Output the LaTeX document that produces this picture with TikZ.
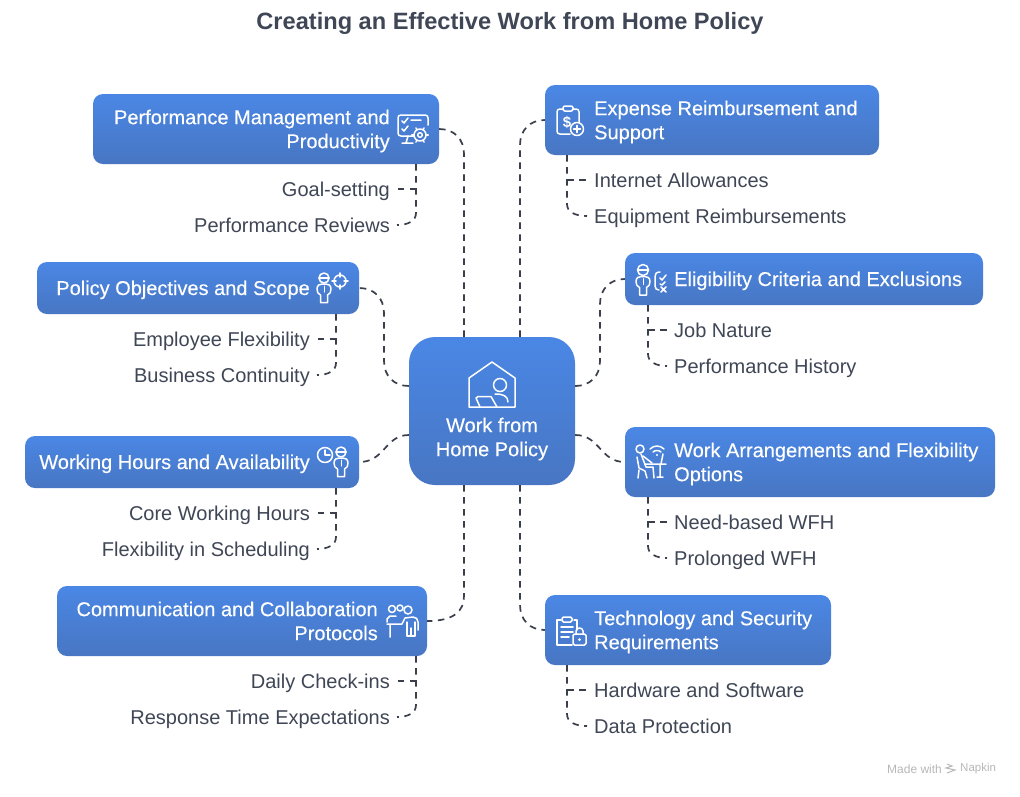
\documentclass[tikz,border=0pt]{standalone}
\usepackage{fontspec}
\setmainfont{Liberation Sans}
\newfontfamily\medf[FakeBold=0.25]{Liberation Sans}
\definecolor{inkc}{HTML}{3F4655}
\definecolor{linec}{HTML}{3A3F4B}
\definecolor{topc}{HTML}{4A87E5}
\definecolor{botc}{HTML}{4876C3}
\tikzset{
  bluebox/.style={rectangle,rounded corners=10pt,top color=topc,bottom color=botc,draw=none,inner sep=0pt},
  conn/.style={draw=linec,line width=1.7pt,dash pattern=on 6.5pt off 5.5pt},
  leaf/.style={font=\fontsize{20}{24}\selectfont,text=inkc,inner sep=0pt,text height=14pt,text depth=0pt},
  boxtxt/.style={font=\medf\fontsize{20}{24}\selectfont,text=white,inner sep=0pt},
  ico/.style={draw=white,line width=1.5pt,line cap=round,line join=round},
}
\newcommand{\bx}[5]{\node[bluebox,minimum width=#4pt-#2pt,minimum height=#5pt-#3pt] (#1) at ({(#2+#4)/2},{(#3+#5)/2}) {};}
\newcommand{\person}[3]{% head x, head y, head radius
  \draw[ico] (#1,#2) circle (#3);
  \draw[ico] (#1-#3,#2) -- (#1+#3,#2);
  \draw[ico] (#1-3.5,#2+#3+12) -- (#1-3.5,#2+#3+19.5) -- (#1+3.5,#2+#3+19.5) -- (#1+3.5,#2+#3+12)
     .. controls (#1+6,#2+#3+11) and (#1+7,#2+#3+9) .. (#1+7,#2+#3+6)
     .. controls (#1+7,#2+#3+2) and (#1+4,#2+#3+1) .. (#1+2,#2+#3+1)
     -- (#1-2,#2+#3+1)
     .. controls (#1-4,#2+#3+1) and (#1-7,#2+#3+2) .. (#1-7,#2+#3+6)
     .. controls (#1-7,#2+#3+9) and (#1-6,#2+#3+11) .. (#1-3.5,#2+#3+12);
  \draw[ico,line width=1pt] (#1,#2+#3+3) -- (#1,#2+#3+9);
}
\begin{document}
\begin{tikzpicture}[x=1pt,y=-1pt]
\useasboundingbox (0,0) rectangle (1020,796);
\fill[white] (0,0) rectangle (1020,796);

\node[font=\bfseries\fontsize{23.6}{28}\selectfont,text=inkc,inner sep=0pt] (title) at (510,23) {Creating an Effective Work from Home Policy};

% boxes
\bx{pm}{93}{94}{439}{164}
\bx{er}{545}{85}{879}{155}
\bx{po}{37}{262}{359}{314}
\bx{ec}{625}{253}{983}{305}
\bx{wh}{25}{436}{359}{488}
\bx{wa}{625}{427}{995}{497}
\bx{cc}{57}{586}{427}{656}
\bx{ts}{545}{595}{831}{665}
\node[bluebox,rounded corners=26pt,minimum width=166pt,minimum height=148pt] (ctr) at (492,411) {};

% box text
\node[boxtxt,align=right,anchor=east] (pmt) at (390,131) {Performance Management and\\Productivity};
\node[boxtxt,align=left,anchor=west] (ert) at (594,122) {Expense Reimbursement and\\Support};
\node[boxtxt,anchor=east,text height=14pt,text depth=0pt] (pot) at (310,288) {Policy Objectives and Scope};
\node[boxtxt,anchor=west,text height=14pt,text depth=0pt] (ect) at (674,279) {Eligibility Criteria and Exclusions};
\node[boxtxt,anchor=east,text height=14pt,text depth=0pt] (wht) at (310,462) {Working Hours and Availability};
\node[boxtxt,align=left,anchor=west] (wat) at (674,464) {Work Arrangements and Flexibility\\Options};
\node[boxtxt,align=right,anchor=east] (cct) at (378,621) {Communication and Collaboration\\Protocols};
\node[boxtxt,align=left,anchor=west] (tst) at (594,632) {Technology and Security\\Requirements};
\node[boxtxt,align=center] (ctrt) at (492,439) {Work from\\Home Policy};

% leaves
\node[leaf,anchor=east] (pm1) at (390,189) {Goal-setting};
\node[leaf,anchor=east] (pm2) at (390,225) {Performance Reviews};
\node[leaf,anchor=east] (po1) at (310,339) {Employee Flexibility};
\node[leaf,anchor=east] (po2) at (310,375) {Business Continuity};
\node[leaf,anchor=east] (wh1) at (310,513) {Core Working Hours};
\node[leaf,anchor=east] (wh2) at (310,549) {Flexibility in Scheduling};
\node[leaf,anchor=east] (cc1) at (390,681) {Daily Check-ins};
\node[leaf,anchor=east] (cc2) at (390,717) {Response Time Expectations};
\node[leaf,anchor=west] (er1) at (594,180) {Internet Allowances};
\node[leaf,anchor=west] (er2) at (594,216) {Equipment Reimbursements};
\node[leaf,anchor=west] (ec1) at (674,330) {Job Nature};
\node[leaf,anchor=west] (ec2) at (674,366) {Performance History};
\node[leaf,anchor=west] (wa1) at (674,522) {Need-based WFH};
\node[leaf,anchor=west] (wa2) at (674,558) {Prolonged WFH};
\node[leaf,anchor=west] (ts1) at (594,690) {Hardware and Software};
\node[leaf,anchor=west] (ts2) at (594,726) {Data Protection};

% centre connectors
\draw[conn] ([xshift=-28pt]ctr.north) -- (464,154) .. controls (464,139) and (454,129) .. (pm.east);
\draw[conn] ([xshift=28pt]ctr.north) -- (520,145) .. controls (520,130) and (530,120) .. (er.west);
\draw[conn] ([yshift=25pt]ctr.west) .. controls (394,386) and (384,376) .. (384,361) -- (384,313) .. controls (384,298) and (374,288) .. (po.east);
\draw[conn] ([yshift=-24pt]ctr.west) .. controls (385,435) and (385,462) .. (wh.east);
\draw[conn] ([yshift=25pt]ctr.east) .. controls (590,386) and (600,376) .. (600,361) -- (600,304) .. controls (600,289) and (610,279) .. (ec.west);
\draw[conn] ([yshift=-24pt]ctr.east) .. controls (600,435) and (600,462) .. (wa.west);
\draw[conn] ([xshift=-28pt]ctr.south) -- (464,596) .. controls (464,611) and (454,621) .. (cc.east);
\draw[conn] ([xshift=28pt]ctr.south) -- (520,605) .. controls (520,620) and (530,630) .. (ts.west);

% leaf connectors
\foreach \b/\xx/\ya/\yb/\ta/\tb in {pm/416/189/225/pm1/pm2, po/336/339/375/po1/po2, wh/336/513/549/wh1/wh2, cc/416/681/717/cc1/cc2}{
  \draw[conn] (\xx,\ya) -- ([xshift=7pt]\ta.east);
  \draw[conn] (\b.south -| \xx,0) -- (\xx,\yb-12) .. controls (\xx,\yb-4) and (\xx-8,\yb) .. ([xshift=7pt]\tb.east);
}
\foreach \b/\xx/\ya/\yb/\ta/\tb in {er/567/180/216/er1/er2, ec/648/330/366/ec1/ec2, wa/648/522/558/wa1/wa2, ts/567/690/726/ts1/ts2}{
  \draw[conn] (\xx,\ya) -- ([xshift=-7pt]\ta.west);
  \draw[conn] (\b.south -| \xx,0) -- (\xx,\yb-12) .. controls (\xx,\yb-4) and (\xx+8,\yb) .. ([xshift=-7pt]\tb.west);
}

% centre icon
\draw[ico] (469,378) -- (492,362) -- (515,378) -- (515,407) -- (469,407) -- cycle;
\draw[ico] (500,385) circle (6.5);
\draw[ico] (495,394) .. controls (503,394) and (508,396) .. (508,402);
\draw[ico] (480,407) -- (476,398) -- (478,396.5) -- (491,396.5) -- (497,407);

% PM icon
\draw[ico] (414,136) -- (401,136) .. controls (399,136) and (398,135) .. (398,133) -- (398,118) .. controls (398,116) and (399,115) .. (401,115) -- (425,115) .. controls (427,115) and (428,116) .. (428,118) -- (428,125);
\draw[ico] (408,136) -- (406,143) (402,143) -- (413,143);
\draw[ico] (402,121) -- (404,123) -- (408,118) (411,120) -- (421,120) (402,129) -- (404,131) -- (408,126);
\draw[ico] (420,135) circle (2.3);
\draw[ico] (420,135) circle (6);
\foreach \a in {0,60,...,300}{\draw[ico] (420,135) ++(\a:6) -- ++(\a:2.2);}

% ER icon
\draw[ico] (563,109) -- (560,109) .. controls (558,109) and (557,110) .. (557,112) -- (557,131) .. controls (557,133) and (558,134) .. (560,134) -- (570,134);
\draw[ico] (573,109) -- (576,109) .. controls (578,109) and (579,110) .. (579,112) -- (579,122);
\draw[ico,rounded corners=2pt] (563,106) rectangle (573,111);
\node[inner sep=0pt,text=white,font=\bfseries\fontsize{15}{15}\selectfont] (erd) at (567,122) {\$};
\draw[ico] (577,129) circle (6.5);
\draw[ico] (577,125.5) -- (577,132.5) (573.5,129) -- (580.5,129);

% PO icon
\person{324}{278}{5}
\draw[ico] (340,281) circle (6);
\draw[ico] (340,273) -- (340,277) (340,285) -- (340,289) (332,281) -- (336,281) (344,281) -- (348,281);

% WH icon
\draw[ico] (325,455) circle (7.5);
\draw[ico] (325,450) -- (325,455) -- (330,455);
\person{341}{452}{5}

% EC icon
\person{643}{270}{5.5}
\draw[ico] (660,272) .. controls (656,272) and (655,274) .. (655,277) -- (655,286) .. controls (655,289) and (657,290) .. (659,290);
\draw[ico] (660,278) -- (662,280) -- (666,275) (660,284) -- (662,285) -- (665,282);
\draw[ico] (661,287) -- (666,292) (666,287) -- (661,292);

% WA icon
\draw[ico] (640,449) circle (4);
\draw[ico] (641,454) -- (646,467) -- (653,467) -- (654,478);
\draw[ico] (643,456) -- (652,463);
\draw[ico] (637,457) -- (639,468) -- (645,471) (639,470) -- (638,478) (645,471) -- (647,478);
\draw[ico] (645,464) -- (666,464) (660,464) -- (660,477) (657,477) -- (663,477) (663,454) -- (661,464);
\draw[ico] (650,449) .. controls (654,445) and (660,445) .. (664,449) (653,452) .. controls (655,450) and (659,450) .. (661,452);
\fill[white] (657,455) circle (1.2);

% CC icon
\draw[ico] (392,609) circle (3.5);
\draw[ico] (400,608) circle (3);
\draw[ico] (408,610) circle (4);
\draw[ico] (387,624) -- (402,624) -- (405,618) -- (413,617) .. controls (416,617) and (418,619) .. (418,622) -- (418,630) (390,624) -- (390,637) (387,622) -- (387,619) -- (390,616) -- (396,616);
\draw[ico] (407,622) -- (407,636) -- (411,636) -- (411,628) (411,636) -- (415,636) -- (415,622);

% TS icon
\draw[ico] (561,620) -- (557,620) -- (557,645) -- (572,645);
\draw[ico] (574,620) -- (577,620) -- (577,630);
\draw[ico,rounded corners=1.5pt] (562,617) rectangle (572,622);
\draw[ico] (561,627) -- (573,627) (561,632) -- (573,632) (561,637) -- (569,637);
\draw[ico,rounded corners=1.5pt] (573,634) rectangle (586,645);
\draw[ico] (576,634) -- (576,631) .. controls (576,627) and (583,627) .. (583,631) -- (583,634);
\fill[white] (579.5,639.5) circle (1.5);

% footer
\node[anchor=west,inner sep=0pt,text=black!28,font=\fontsize{12}{13}\selectfont] (mw) at (887,769) {Made with};
\node[anchor=west,inner sep=0pt,text=black!28,font=\fontsize{11.5}{13}\selectfont] (nap) at (960,769) {Napkin};
\draw[black!28,line width=1pt] (947,764) -- (952,766) -- (946,768) -- (955,770) -- (947,773);
\end{tikzpicture}
\end{document}
